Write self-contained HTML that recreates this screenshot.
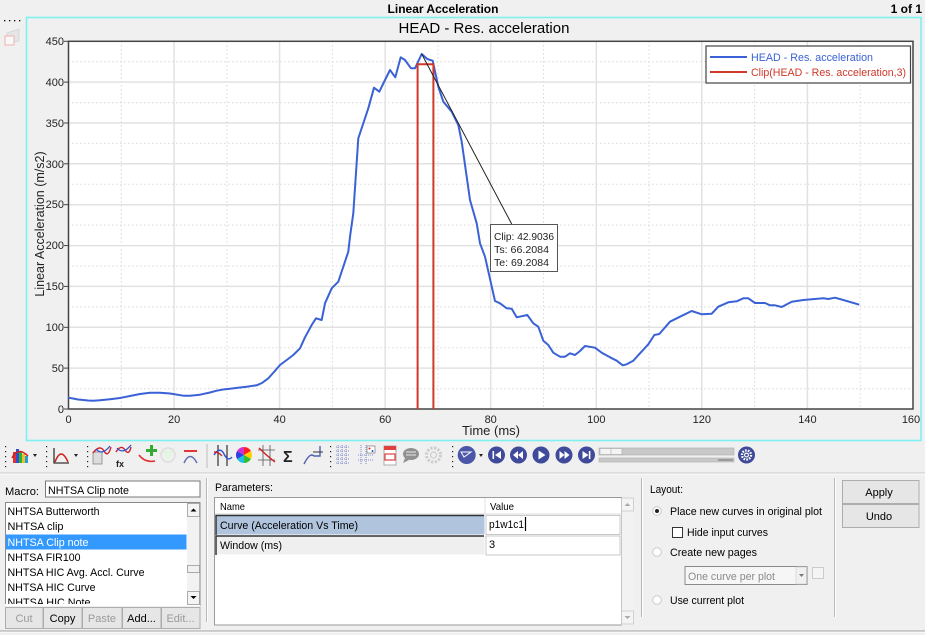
<!DOCTYPE html>
<html><head><meta charset="utf-8"><style>
html,body{margin:0;padding:0;background:#f0f0f0;}
svg{display:block;font-family:"Liberation Sans",Arial,sans-serif;}
</style></head><body>
<svg width="925" height="635" viewBox="0 0 925 635" xmlns="http://www.w3.org/2000/svg">
<rect x="0" y="0" width="925" height="635" fill="#f0f0f0"/>
<!-- header -->
<text x="443" y="13" font-size="12" font-weight="bold" text-anchor="middle" fill="#000">Linear Acceleration</text>
<text x="922" y="13" font-size="12" font-weight="bold" text-anchor="end" fill="#000">1 of 1</text>
<g fill="#000"><rect x="4" y="20" width="1.3" height="1.3"/><rect x="9" y="20" width="1.3" height="1.3"/><rect x="14" y="20" width="1.3" height="1.3"/><rect x="19" y="20" width="1.3" height="1.3"/></g>
<g opacity="0.55"><path d="M7 33 L19 29 L19 41 L7 44 Z" fill="#ddd" stroke="#bbb" stroke-width="0.8"/><rect x="5" y="36" width="9" height="9" fill="#fff" stroke="#f08080" stroke-width="1"/></g>
<!-- cyan frame -->
<rect x="26.5" y="17.5" width="894.5" height="423" fill="#f0f0f0" stroke="#7ff0f0" stroke-width="1.6"/>
<text x="484" y="33" font-size="15" text-anchor="middle" fill="#000">HEAD - Res. acceleration</text>
<!-- plot area -->
<rect x="68.5" y="41.3" width="844.5" height="367.7" fill="#fff"/>
<g stroke="#d8d8d8" stroke-width="1" stroke-dasharray="1.5,2.5">
<line x1="121.3" y1="41" x2="121.3" y2="409"/><line x1="226.9" y1="41" x2="226.9" y2="409"/><line x1="332.4" y1="41" x2="332.4" y2="409"/><line x1="438" y1="41" x2="438" y2="409"/><line x1="543.5" y1="41" x2="543.5" y2="409"/><line x1="649.1" y1="41" x2="649.1" y2="409"/><line x1="754.6" y1="41" x2="754.6" y2="409"/><line x1="860.2" y1="41" x2="860.2" y2="409"/>
<line x1="68" y1="388.6" x2="913" y2="388.6"/><line x1="68" y1="347.7" x2="913" y2="347.7"/><line x1="68" y1="306.9" x2="913" y2="306.9"/><line x1="68" y1="266" x2="913" y2="266"/><line x1="68" y1="225.1" x2="913" y2="225.1"/><line x1="68" y1="184.3" x2="913" y2="184.3"/><line x1="68" y1="143.4" x2="913" y2="143.4"/><line x1="68" y1="102.6" x2="913" y2="102.6"/><line x1="68" y1="61.7" x2="913" y2="61.7"/>
</g>
<g stroke="#e2e2e2" stroke-width="1.5">
<line x1="174.1" y1="41" x2="174.1" y2="409"/><line x1="279.6" y1="41" x2="279.6" y2="409"/><line x1="385.2" y1="41" x2="385.2" y2="409"/><line x1="490.7" y1="41" x2="490.7" y2="409"/><line x1="596.3" y1="41" x2="596.3" y2="409"/><line x1="701.8" y1="41" x2="701.8" y2="409"/><line x1="807.4" y1="41" x2="807.4" y2="409"/>
<line x1="68" y1="368.1" x2="913" y2="368.1"/><line x1="68" y1="327.3" x2="913" y2="327.3"/><line x1="68" y1="286.4" x2="913" y2="286.4"/><line x1="68" y1="245.6" x2="913" y2="245.6"/><line x1="68" y1="204.7" x2="913" y2="204.7"/><line x1="68" y1="163.8" x2="913" y2="163.8"/><line x1="68" y1="123" x2="913" y2="123"/><line x1="68" y1="82.1" x2="913" y2="82.1"/>
</g>
<rect x="68.5" y="41.3" width="844.5" height="367.7" fill="none" stroke="#444" stroke-width="1.5"/>
<g stroke="#444" stroke-width="1">
<line x1="64" y1="409" x2="68" y2="409"/><line x1="64" y1="368.1" x2="68" y2="368.1"/><line x1="64" y1="327.3" x2="68" y2="327.3"/><line x1="64" y1="286.4" x2="68" y2="286.4"/><line x1="64" y1="245.6" x2="68" y2="245.6"/><line x1="64" y1="204.7" x2="68" y2="204.7"/><line x1="64" y1="163.8" x2="68" y2="163.8"/><line x1="64" y1="123" x2="68" y2="123"/><line x1="64" y1="82.1" x2="68" y2="82.1"/><line x1="64" y1="41.3" x2="68" y2="41.3"/>
</g>
<g font-size="11" fill="#222" text-anchor="end">
<text x="64" y="413">0</text><text x="64" y="372">50</text><text x="64" y="331">100</text><text x="64" y="290">150</text><text x="64" y="249">200</text><text x="64" y="208">250</text><text x="64" y="168">300</text><text x="64" y="127">350</text><text x="64" y="86">400</text><text x="64" y="45">450</text>
</g>
<g font-size="11" fill="#222" text-anchor="middle">
<text x="68.5" y="423">0</text><text x="174.1" y="423">20</text><text x="279.6" y="423">40</text><text x="385.2" y="423">60</text><text x="490.7" y="423">80</text><text x="596.3" y="423">100</text><text x="701.8" y="423">120</text><text x="807.4" y="423">140</text><text x="911" y="423">160</text>
</g>
<text x="491" y="435" font-size="13" text-anchor="middle" fill="#222">Time (ms)</text>
<text transform="translate(44,224) rotate(-90)" font-size="12.5" text-anchor="middle" fill="#222">Linear Acceleration (m/s2)</text>
<!-- curve -->
<polyline fill="none" stroke="#3a62d6" stroke-width="2" stroke-linejoin="round" points="68.3,397.7 73,398.5 78,399.5 83.3,400 88,400.5 93.3,400.7 100,400.2 110,399.3 120,398 130,396 140,394 150,392.7 160,392.7 170,393.5 183.3,395.7 190,395.7 200,394.7 210,392.5 216.7,390.7 223,389.5 230,388.7 240,387.5 246.7,386.7 256.7,385.3 262,383 268.3,378.3 274,372 280,365 286.7,360 293.3,355 300,348.3 305,337.3 311.7,325 316,318.3 318.3,319 321.7,320 325,303.3 331.7,288.3 338.3,281.7 343.3,266.7 348.3,251.7 350,236.7 353.3,213.3 358.3,138.3 363.3,123.3 368.3,108.3 374,87.7 379.3,91.7 385,80 390,70 395.3,77.3 400.7,57.3 405,60 411,68.3 415,68.3 421.7,54 427.3,59 432.7,60.7 438.3,86.7 443.3,101.7 451.7,111.7 458.3,125 461.7,141.7 470,200 476.7,223.3 480,243.3 485,256.7 495,301 500,303.3 506.7,308.3 511.7,308.7 516.7,317.3 527.3,315 533.3,323.3 538.3,326.7 543.3,340.7 548.3,345 553.3,352.7 560,356.7 565,356.7 570,353.3 575,355 580,351 585,346 595,347.7 601.7,352.7 610,357.3 616.7,360.7 622.7,365.3 626.7,364.3 633.3,360.7 640,353.3 648.3,344.3 654.3,335 659.3,334 670,321.7 680,316.7 691.7,311 701.7,314.3 711.7,313.7 718.3,306.7 728.3,302.3 736.7,301.3 743.3,298.3 748.3,298.3 755,303 765,303 770,305.3 775,305.3 781.7,307 791.7,301.7 803.3,300 823.3,298.3 828.3,299 835,297.7 843.3,300 859.3,304.7"/>
<!-- clip -->
<polyline fill="none" stroke="#d0382a" stroke-width="2" points="417.6,409 417.6,64.3 433.4,64.3 433.4,409"/>
<!-- callout -->
<line x1="421.7" y1="54" x2="511.7" y2="224" stroke="#222" stroke-width="1"/>
<rect x="490.5" y="224.5" width="67" height="47" fill="#fff" stroke="#555" stroke-width="1"/>
<g font-size="10.5" fill="#222"><text x="494" y="240" textLength="60" lengthAdjust="spacingAndGlyphs">Clip: 42.9036</text><text x="494" y="253" textLength="55" lengthAdjust="spacingAndGlyphs">Ts: 66.2084</text><text x="494" y="266" textLength="55" lengthAdjust="spacingAndGlyphs">Te: 69.2084</text></g>
<!-- legend -->
<rect x="706" y="46" width="204.5" height="37" fill="#fff" stroke="#444" stroke-width="1.2"/>
<line x1="710" y1="57" x2="747" y2="57" stroke="#3a62d6" stroke-width="2"/>
<line x1="710" y1="72" x2="747" y2="72" stroke="#d0382a" stroke-width="2"/>
<text x="751" y="61" font-size="11" fill="#3a62d6" textLength="122" lengthAdjust="spacingAndGlyphs">HEAD - Res. acceleration</text>
<text x="751" y="76" font-size="11" fill="#d0382a" textLength="155" lengthAdjust="spacingAndGlyphs">Clip(HEAD - Res. acceleration,3)</text>

<!-- toolbar -->
<g fill="#222">
<g id="grip"><rect x="5" y="446" width="1.2" height="1.2"/><rect x="5" y="451" width="1.2" height="1.2"/><rect x="5" y="456" width="1.2" height="1.2"/><rect x="5" y="461" width="1.2" height="1.2"/><rect x="5" y="466" width="1.2" height="1.2"/></g>
<use href="#grip" x="41"/><use href="#grip" x="82"/><use href="#grip" x="325"/><use href="#grip" x="447"/>
</g>
<g><rect x="13" y="452" width="3" height="11" fill="#e03030"/><rect x="16" y="449" width="3" height="14" fill="#3050d0"/><rect x="19" y="451" width="3" height="12" fill="#30b030"/><rect x="22" y="454" width="3" height="9" fill="#f0c020"/><rect x="25" y="456" width="3" height="7" fill="#20a0e0"/><path d="M12 458 Q18 446 28 456" fill="none" stroke="#d02020" stroke-width="1.5"/></g>
<path d="M33 454 l4 0 l-2 3z" fill="#222"/>
<path d="M54 448 L54 463 L69 463" fill="none" stroke="#333" stroke-width="1.3"/><path d="M55 462 Q61 446 68 462" fill="none" stroke="#d02020" stroke-width="1.5"/>
<path d="M74 454 l4 0 l-2 3z" fill="#222"/>
<rect x="93" y="452" width="9" height="12" fill="#ddd" stroke="#888" stroke-width="0.8"/><path d="M93 453 Q100 444 104 451 T111 447" fill="none" stroke="#d02020" stroke-width="1.4"/><path d="M96 449 Q102 456 110 446" fill="none" stroke="#3050d0" stroke-width="1.3"/>
<path d="M116 452 Q121 444 125 450 T131 447" fill="none" stroke="#d02020" stroke-width="1.4"/><path d="M117 448 Q123 455 131 445" fill="none" stroke="#3050d0" stroke-width="1.3"/><text x="116" y="467" font-size="9" font-weight="bold" fill="#222">fx</text>
<path d="M139 455 Q145 463 155 461" fill="none" stroke="#e03030" stroke-width="1.5"/><path d="M150 446 h4 v-4 h3 v4 h4 v3 h-4 v4 h-3 v-4 h-4z" fill="#3a3" transform="translate(-4,3)"/>
<circle cx="168" cy="455" r="7" fill="none" stroke="#ddd" stroke-width="1.5"/><path d="M164 452 l8 0 l-4 6z" fill="none" stroke="#cfc" stroke-width="1"/>
<line x1="184" y1="451" x2="197" y2="451" stroke="#e02020" stroke-width="1.8"/><path d="M184 463 Q190 450 197 463" fill="none" stroke="#6070b0" stroke-width="1.5"/>
<line x1="207" y1="444" x2="207" y2="468" stroke="#bbb" stroke-width="1"/>
<line x1="218" y1="445" x2="218" y2="466" stroke="#333" stroke-width="1.2"/><line x1="227" y1="445" x2="227" y2="466" stroke="#333" stroke-width="1.2"/><path d="M214 455 Q220 446 224 454 T232 457" fill="none" stroke="#3050d0" stroke-width="1.4"/><path d="M214 452 Q219 452 222 456" fill="none" stroke="#d02020" stroke-width="1.4"/>
<g transform="translate(244,455)">
<path d="M0 0 L0 -8 A8 8 0 0 1 6.9 -4 Z" fill="#ff2020"/><path d="M0 0 L6.9 -4 A8 8 0 0 1 6.9 4 Z" fill="#ffd000"/><path d="M0 0 L6.9 4 A8 8 0 0 1 0 8 Z" fill="#30c030"/><path d="M0 0 L0 8 A8 8 0 0 1 -6.9 4 Z" fill="#20c0e0"/><path d="M0 0 L-6.9 4 A8 8 0 0 1 -6.9 -4 Z" fill="#3040e0"/><path d="M0 0 L-6.9 -4 A8 8 0 0 1 0 -8 Z" fill="#d030d0"/></g>
<g stroke="#555" stroke-width="0.8"><line x1="258" y1="450" x2="275" y2="450"/><line x1="258" y1="460" x2="275" y2="460"/><line x1="263" y1="445" x2="263" y2="466"/><line x1="270" y1="445" x2="270" y2="466"/></g><path d="M259 448 Q266 455 275 462" fill="none" stroke="#d02020" stroke-width="1.4"/>
<text x="283" y="462" font-size="16" font-weight="bold" fill="#222">Σ</text>
<path d="M304 464 Q310 452 314 456 L320 456 L320 446" fill="none" stroke="#5060b0" stroke-width="1.4"/><path d="M313 452 h10" stroke="#333" stroke-width="1"/>
<g stroke="#6070c0" stroke-width="0.8" stroke-dasharray="1,1"><line x1="336" y1="447" x2="350" y2="447"/><line x1="336" y1="451" x2="350" y2="451"/><line x1="336" y1="455" x2="350" y2="455"/><line x1="336" y1="459" x2="350" y2="459"/><line x1="336" y1="463" x2="350" y2="463"/><line x1="338" y1="445" x2="338" y2="465"/><line x1="342" y1="445" x2="342" y2="465"/><line x1="346" y1="445" x2="346" y2="465"/></g>
<g stroke="#6070c0" stroke-width="0.8" stroke-dasharray="1,1"><line x1="358" y1="455" x2="374" y2="455"/><line x1="358" y1="460" x2="374" y2="460"/><line x1="361" y1="445" x2="361" y2="465"/><line x1="366" y1="445" x2="366" y2="465"/></g><rect x="367" y="446" width="8" height="7" fill="#fff" stroke="#666" stroke-width="0.6"/><circle cx="369.5" cy="448.5" r="1" fill="#d02020"/><circle cx="372.5" cy="451" r="1" fill="#3050d0"/>
<rect x="384" y="446" width="12" height="19" fill="#fff" stroke="#999" stroke-width="0.8"/><rect x="385" y="454" width="10" height="6" fill="#fff" stroke="#e04040" stroke-width="1.2"/><rect x="384" y="446" width="12" height="4" fill="#e04040"/>
<ellipse cx="411" cy="454" rx="8" ry="6" fill="#909090"/><path d="M405 458 l-2 5 l6 -3z" fill="#909090"/><g stroke="#fff" stroke-width="0.8"><line x1="406" y1="452" x2="416" y2="452"/><line x1="406" y1="455" x2="416" y2="455"/></g>
<circle cx="433.5" cy="455" r="7" fill="none" stroke="#ccc" stroke-width="3" stroke-dasharray="2.2,1.5"/><circle cx="433.5" cy="455" r="3" fill="none" stroke="#ccc" stroke-width="1.2"/>
<circle cx="466.7" cy="455" r="9" fill="#4b56a8"/><path d="M461 452 h10 l-7 5 z" fill="none" stroke="#fff" stroke-width="1"/>
<path d="M479 454 l4 0 l-2 3z" fill="#222"/>
<g fill="#3f4a9a">
<circle cx="496.5" cy="455" r="8.5"/><circle cx="518.5" cy="455" r="8.5"/><circle cx="541" cy="455" r="8.5"/><circle cx="564" cy="455" r="8.5"/><circle cx="586.5" cy="455" r="8.5"/></g>
<g fill="#fff">
<rect x="492.5" y="451" width="1.6" height="8"/><path d="M501 451 v8 l-6 -4z"/>
<path d="M518 451 v8 l-5 -4z M523 451 v8 l-5 -4z"/>
<path d="M538.5 450.5 v9 l7 -4.5z"/>
<path d="M559.5 451 v8 l5 -4z M564.5 451 v8 l5 -4z"/>
<path d="M582.5 451 v8 l6 -4z"/><rect x="588.8" y="451" width="1.6" height="8"/>
</g>
<rect x="599" y="448" width="135" height="7" fill="#c8c8c8" stroke="#b0b0b0" stroke-width="0.6"/><rect x="600" y="448.5" width="22" height="6" fill="#f4f4f4" stroke="#aaa" stroke-width="0.6"/><line x1="611" y1="448.5" x2="611" y2="454.5" stroke="#aaa" stroke-width="0.6"/>
<rect x="599" y="458" width="135" height="4" fill="#c8c8c8" stroke="#b0b0b0" stroke-width="0.6"/><line x1="718" y1="460" x2="733" y2="460" stroke="#555" stroke-width="0.8"/>
<circle cx="746.5" cy="455" r="8.5" fill="#3f4a9a"/><circle cx="746.5" cy="455" r="4.5" fill="none" stroke="#fff" stroke-width="2.4" stroke-dasharray="1.6,1.2"/><circle cx="746.5" cy="455" r="2.5" fill="#fff"/><circle cx="746.5" cy="455" r="1.3" fill="#3f4a9a"/>
<!-- panel separators -->
<line x1="0" y1="473" x2="925" y2="473" stroke="#c8c8c8" stroke-width="1"/><line x1="0" y1="474" x2="925" y2="474" stroke="#fff" stroke-width="1"/>
<line x1="0" y1="631" x2="925" y2="631" stroke="#a0a0a0" stroke-width="1"/><line x1="0" y1="632" x2="925" y2="632" stroke="#fff" stroke-width="1"/>
<line x1="206.5" y1="478" x2="206.5" y2="622" stroke="#b8b8b8"/><line x1="207.5" y1="478" x2="207.5" y2="622" stroke="#fff"/>
<line x1="641.5" y1="478" x2="641.5" y2="617" stroke="#b8b8b8"/><line x1="642.5" y1="478" x2="642.5" y2="617" stroke="#fff"/>
<line x1="834.5" y1="478" x2="834.5" y2="617" stroke="#b8b8b8"/><line x1="835.5" y1="478" x2="835.5" y2="617" stroke="#fff"/>
<!-- left panel -->
<g font-size="11" fill="#000">
<text x="5" y="495" textLength="34" lengthAdjust="spacingAndGlyphs">Macro:</text>
<rect x="45.5" y="481" width="154.5" height="16" fill="#fff" stroke="#7a7a7a"/>
<text x="48" y="494" textLength="81" lengthAdjust="spacingAndGlyphs">NHTSA Clip note</text>
<rect x="5.5" y="502.5" width="194.5" height="103" fill="#fff" stroke="#8a8a8a"/>
<rect x="6" y="534.5" width="180.5" height="15" fill="#3399ff"/>
<text x="7.5" y="515" textLength="92" lengthAdjust="spacingAndGlyphs">NHTSA Butterworth</text>
<text x="7.5" y="530" textLength="56" lengthAdjust="spacingAndGlyphs">NHTSA clip</text>
<text x="7.5" y="546" fill="#fff" textLength="81" lengthAdjust="spacingAndGlyphs">NHTSA Clip note</text>
<text x="7.5" y="561" textLength="73" lengthAdjust="spacingAndGlyphs">NHTSA FIR100</text>
<text x="7.5" y="576" textLength="137" lengthAdjust="spacingAndGlyphs">NHTSA HIC Avg. Accl. Curve</text>
<text x="7.5" y="591" textLength="88" lengthAdjust="spacingAndGlyphs">NHTSA HIC Curve</text>
<text x="7.5" y="606" textLength="83" lengthAdjust="spacingAndGlyphs">NHTSA HIC Note</text>
</g>
<rect x="5" y="604" width="195" height="2" fill="#fff"/>
<rect x="187" y="503" width="12.5" height="102" fill="#f2f2f2"/>
<rect x="187.5" y="503.5" width="12" height="13" fill="#f4f4f4" stroke="#999" stroke-width="0.8"/><path d="M190.5 511.5 h6 l-3 -3z" fill="#000"/>
<rect x="187.5" y="591.5" width="12" height="13" fill="#f4f4f4" stroke="#999" stroke-width="0.8"/><path d="M190.5 596 h6 l-3 3z" fill="#000"/>
<rect x="187.5" y="565.5" width="12" height="7" fill="#f0f0f0" stroke="#999" stroke-width="0.8"/>
<g font-size="11" text-anchor="middle">
<rect x="5.5" y="607.5" width="37.5" height="21" fill="#e6e6e6" stroke="#adadad"/><text x="24" y="622" fill="#9a9a9a">Cut</text>
<rect x="43.5" y="607.5" width="38.5" height="21" fill="#e6e6e6" stroke="#adadad"/><text x="62.5" y="622" fill="#000">Copy</text>
<rect x="82.5" y="607.5" width="39.5" height="21" fill="#e6e6e6" stroke="#adadad"/><text x="102" y="622" fill="#9a9a9a">Paste</text>
<rect x="122.5" y="607.5" width="38.5" height="21" fill="#e6e6e6" stroke="#adadad"/><text x="141.5" y="622" fill="#000">Add...</text>
<rect x="161.5" y="607.5" width="38.5" height="21" fill="#e6e6e6" stroke="#adadad"/><text x="180.5" y="622" fill="#9a9a9a">Edit...</text>
</g>
<!-- parameters -->
<g font-size="11" fill="#000">
<text x="215" y="491" textLength="58" lengthAdjust="spacingAndGlyphs">Parameters:</text>
<rect x="214.5" y="497.5" width="407" height="127.5" fill="#fff" stroke="#9a9a9a"/>
<line x1="215" y1="514" x2="621" y2="514" stroke="#d8d8d8"/>
<line x1="485" y1="498" x2="485" y2="514" stroke="#e0e0e0"/>
<text x="220" y="510" font-size="10.5" textLength="25" lengthAdjust="spacingAndGlyphs">Name</text>
<text x="490" y="510" font-size="10.5" textLength="24" lengthAdjust="spacingAndGlyphs">Value</text>
<rect x="215.5" y="515" width="269" height="19.5" fill="#b0c4de"/>
<path d="M216 535 V515.5 H484" fill="none" stroke="#333" stroke-width="1.5"/>
<rect x="486" y="515.5" width="134" height="19" fill="#fff" stroke="#bbb" stroke-width="0.8"/>
<text x="220" y="529" textLength="138" lengthAdjust="spacingAndGlyphs">Curve (Acceleration Vs Time)</text>
<text x="489" y="528" textLength="35" lengthAdjust="spacingAndGlyphs">p1w1c1</text><line x1="525.5" y1="517" x2="525.5" y2="531" stroke="#000" stroke-width="1.2"/>
<rect x="215.5" y="535.5" width="269" height="19" fill="#efefef"/>
<path d="M216 555 V536 H484" fill="none" stroke="#333" stroke-width="1.5"/>
<rect x="486" y="536" width="134" height="19" fill="#fff" stroke="#bbb" stroke-width="0.8"/>
<text x="220" y="549" textLength="62" lengthAdjust="spacingAndGlyphs">Window (ms)</text>
<text x="489" y="548">3</text>
</g>
<rect x="621.5" y="498" width="12" height="127" fill="#f2f2f2"/>
<rect x="621.5" y="498" width="12" height="13" fill="#f4f4f4" stroke="#c8c8c8" stroke-width="0.8"/><path d="M624.5 506 h6 l-3 -3z" fill="#aaa"/>
<rect x="621.5" y="611" width="12" height="13" fill="#f4f4f4" stroke="#c8c8c8" stroke-width="0.8"/><path d="M624.5 616 h6 l-3 3z" fill="#aaa"/>
<!-- layout -->
<g font-size="11" fill="#000">
<text x="650" y="493" textLength="33" lengthAdjust="spacingAndGlyphs">Layout:</text>
<circle cx="657" cy="511" r="4.3" fill="#fff" stroke="#ccc"/><circle cx="657" cy="511" r="2" fill="#222"/>
<text x="670" y="515" textLength="152" lengthAdjust="spacingAndGlyphs">Place new curves in original plot</text>
<rect x="672.5" y="527.5" width="10" height="10" fill="#fff" stroke="#333"/>
<text x="687" y="536" textLength="81" lengthAdjust="spacingAndGlyphs">Hide input curves</text>
<circle cx="657" cy="552" r="4.3" fill="#fff" stroke="#ccc"/>
<text x="670" y="556" textLength="87" lengthAdjust="spacingAndGlyphs">Create new pages</text>
<rect x="685" y="566.5" width="122" height="18" fill="#f6f6f6" stroke="#8a8a8a"/>
<rect x="796" y="567" width="10.5" height="17" fill="#f0f0f0" stroke="#ccc" stroke-width="0.6"/><path d="M799 574 h5 l-2.5 3z" fill="#777"/>
<text x="688" y="580" fill="#8a8a8a" textLength="87" lengthAdjust="spacingAndGlyphs">One curve per plot</text>
<rect x="812.5" y="567.5" width="11" height="11" fill="#f4f4f4" stroke="#ccc"/>
<circle cx="657" cy="600" r="4.3" fill="#fff" stroke="#ccc"/>
<text x="670" y="604" textLength="74" lengthAdjust="spacingAndGlyphs">Use current plot</text>
</g>
<g font-size="11" text-anchor="middle" fill="#000">
<rect x="842.5" y="480.5" width="76.5" height="23" fill="#e6e6e6" stroke="#adadad"/><text x="879" y="496">Apply</text>
<rect x="842.5" y="504.5" width="76.5" height="23" fill="#e6e6e6" stroke="#adadad"/><text x="879" y="520">Undo</text>
</g>
</svg>
</body></html>
